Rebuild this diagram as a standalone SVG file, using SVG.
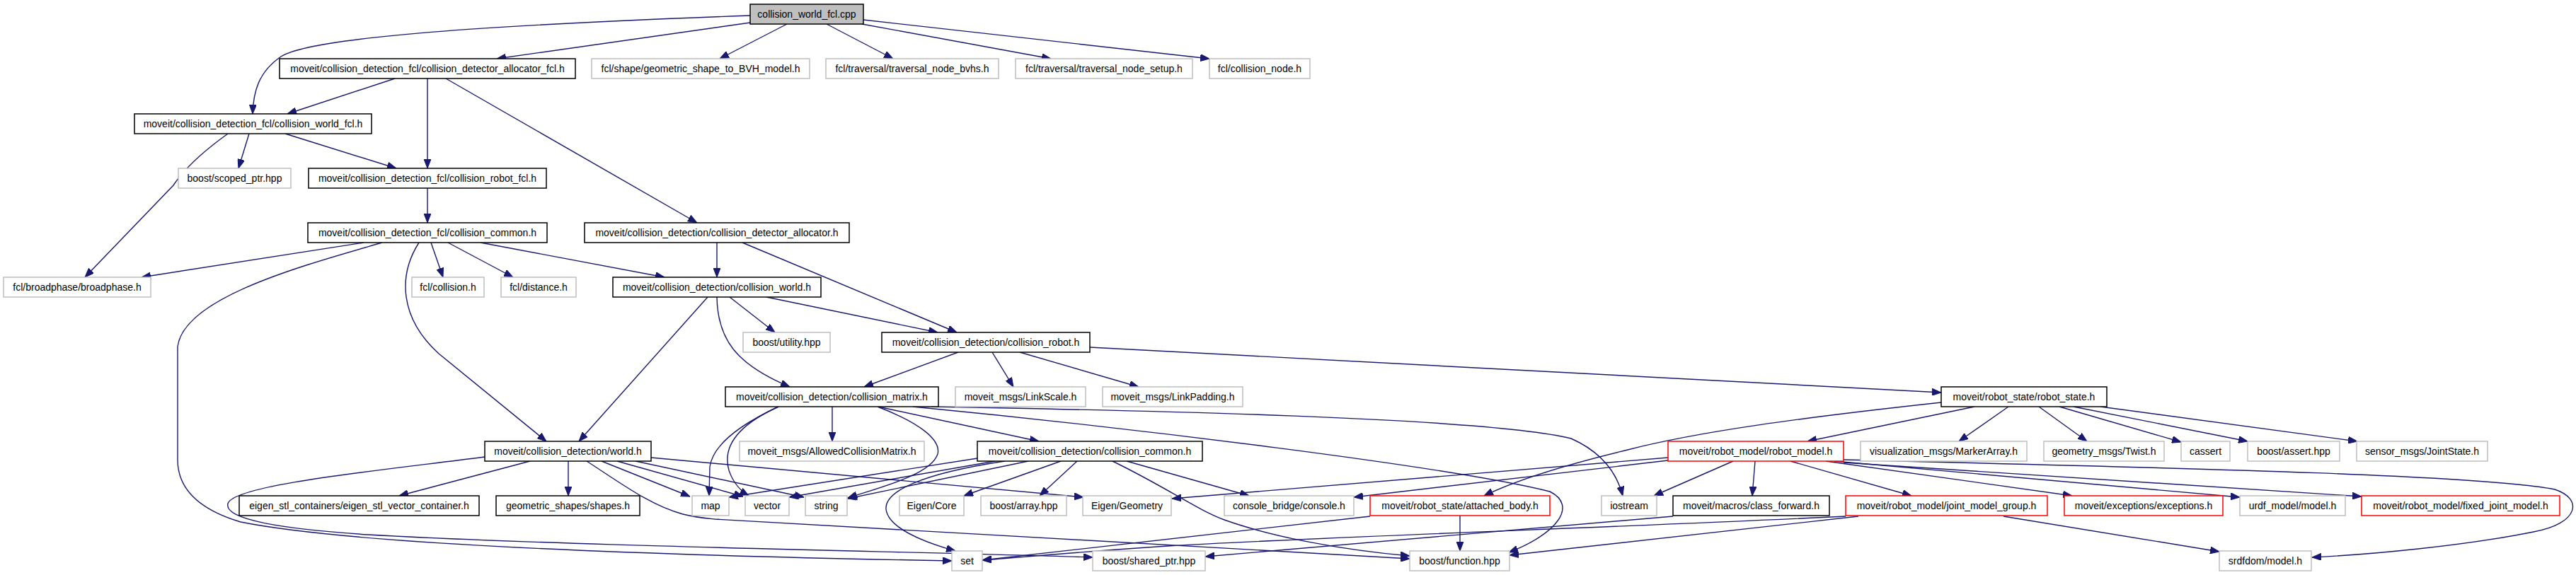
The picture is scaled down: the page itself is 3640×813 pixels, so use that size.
<svg xmlns="http://www.w3.org/2000/svg" width="3640" height="813" viewBox="0 0 3640 813">
<style>
.n rect{fill:#ffffff;stroke:#000000;stroke-width:1.5}
.g rect{stroke:#bfbfbf}
.r rect{stroke:#ff0000}
.root rect{fill:#bfbfbf}
text{font-family:"Liberation Sans",Arial,sans-serif;font-size:14px;text-anchor:middle;fill:#000000}
#edges path{fill:none;stroke:#191970;stroke-width:1.4;marker-end:url(#ah)}
</style>
<defs>
<marker id="ah" viewBox="0 0 13 10" refX="13" refY="5" markerWidth="13" markerHeight="10" markerUnits="userSpaceOnUse" orient="auto">
<path d="M0,0 L13,5 L0,10 z" fill="#191970" stroke="#191970" stroke-width="1"/>
</marker>
</defs>
<rect x="0" y="0" width="3640" height="813" fill="#ffffff"/>
<g id="edges">
<path d="M1060,22 C700,35 440,52 397,80 C365,102 358,130 357,161"/>
<path d="M1060,32 L702,83"/>
<path d="M1112,34 L1017,83"/>
<path d="M1168,34 L1262,83"/>
<path d="M1218,34 L1485,83"/>
<path d="M1220,28 L1709,83"/>
<path d="M558,111 L406,161"/>
<path d="M604,111 L604,238"/>
<path d="M630,111 L985,315"/>
<path d="M322,189 C290,212 262,236 245,262 L120,392"/>
<path d="M352,189 L337,238"/>
<path d="M403,189 L560,238"/>
<path d="M604,266 L604,315"/>
<path d="M514,343 L200,392"/>
<path d="M540,343 C430,375 260,420 251,490 L251,650 C251,690 280,720 340,738 C500,770 900,785 1345,793"/>
<path d="M592,343 C562,390 565,450 620,500 L772,624"/>
<path d="M609,343 L626,392"/>
<path d="M633,343 L725,392"/>
<path d="M679,343 L939,392"/>
<path d="M1013,343 L1013,392"/>
<path d="M1049,343 L1352,470"/>
<path d="M1000,420 L818,624"/>
<path d="M1031,420 L1095,470"/>
<path d="M1083,420 L1325,470"/>
<path d="M1013,420 C1014,480 1040,515 1116,547"/>
<path d="M1354,498 L1221,547"/>
<path d="M1402,498 L1432,547"/>
<path d="M1441,498 L1609,547"/>
<path d="M1540,491 L2743,555"/>
<path d="M1100,575 C1055,596 1008,625 1003,660 L1002,701"/>
<path d="M1100,575 C1045,600 1020,630 1030,665 C1036,683 1048,695 1058,701"/>
<path d="M1176,575 L1176,624"/>
<path d="M1240,575 C1300,598 1330,622 1325,642 C1315,672 1240,690 1198,704"/>
<path d="M1241,575 L1468,624"/>
<path d="M1316,575 C1600,580 2100,590 2220,620 C2265,640 2285,670 2293,701"/>
<path d="M1290,575 C1600,605 2050,660 2190,695 C2230,715 2200,755 2132,781"/>
<path d="M2743,569 C2550,590 2400,610 2300,636 C2200,660 2140,680 2097,701"/>
<path d="M2790,575 L2554,624"/>
<path d="M2838,575 L2768,624"/>
<path d="M2881,575 L2949,624"/>
<path d="M2910,575 L3082,625"/>
<path d="M2930,575 L3176,624"/>
<path d="M2968,575 L3331,624"/>
<path d="M749,652 L564,701"/>
<path d="M803,652 L803,701"/>
<path d="M850,652 L975,702"/>
<path d="M872,652 L1050,702"/>
<path d="M898,652 L1136,703"/>
<path d="M920,647 L1531,703"/>
<path d="M685,646 C540,665 330,685 322,712 C316,735 400,748 520,756 C800,772 1300,780 1544,788"/>
<path d="M829,652 C880,685 920,715 965,727 C985,732 1000,733 1010,734 L1992,790"/>
<path d="M1381,648 L1030,703"/>
<path d="M1406,652 L1115,703"/>
<path d="M1453,652 L1198,705"/>
<path d="M1499,652 L1362,701"/>
<path d="M1522,652 L1469,701"/>
<path d="M1592,652 L1765,701"/>
<path d="M1420,652 C1300,670 1250,695 1252,720 C1255,745 1300,765 1350,779"/>
<path d="M1572,652 C1650,690 1690,720 1730,735 C1800,760 1900,778 1992,786"/>
<path d="M2357,647 L1656,705"/>
<path d="M2357,651 L1913,703"/>
<path d="M2449,652 L2337,701"/>
<path d="M2480,652 L2476,701"/>
<path d="M2530,652 L2701,701"/>
<path d="M2580,652 L2928,701"/>
<path d="M2592,652 L3165,703"/>
<path d="M2605,654 L3337,702"/>
<path d="M2605,650 C3000,660 3500,670 3610,692 C3650,705 3645,740 3580,752 C3480,772 3350,784 3267,788"/>
<path d="M1936,730 L1388,792"/>
<path d="M2063,729 L2063,779"/>
<path d="M2364,730 L1703,787"/>
<path d="M2608,730 C2300,745 1850,760 1650,772 C1500,782 1420,790 1388,792"/>
<path d="M2626,730 L2133,785"/>
<path d="M2831,730 L3136,780"/>
</g>
<g id="n0" class="n root"><rect x="1060" y="6" width="160" height="28"/><text x="1140" y="25">collision_world_fcl.cpp</text></g>
<g id="n1" class="n"><rect x="395" y="83" width="418" height="28"/><text x="604" y="102">moveit/collision_detection_fcl/collision_detector_allocator_fcl.h</text></g>
<g id="n2" class="n g"><rect x="836" y="83" width="308" height="28"/><text x="990" y="102">fcl/shape/geometric_shape_to_BVH_model.h</text></g>
<g id="n3" class="n g"><rect x="1167" y="83" width="244" height="28"/><text x="1289" y="102">fcl/traversal/traversal_node_bvhs.h</text></g>
<g id="n4" class="n g"><rect x="1435" y="83" width="250" height="28"/><text x="1560" y="102">fcl/traversal/traversal_node_setup.h</text></g>
<g id="n5" class="n g"><rect x="1709" y="83" width="142" height="28"/><text x="1780" y="102">fcl/collision_node.h</text></g>
<g id="n6" class="n"><rect x="190" y="161" width="335" height="28"/><text x="357.5" y="180">moveit/collision_detection_fcl/collision_world_fcl.h</text></g>
<g id="n7" class="n g"><rect x="252" y="238" width="159" height="28"/><text x="331.5" y="257">boost/scoped_ptr.hpp</text></g>
<g id="n8" class="n"><rect x="436" y="238" width="336" height="28"/><text x="604" y="257">moveit/collision_detection_fcl/collision_robot_fcl.h</text></g>
<g id="n9" class="n"><rect x="435" y="315" width="338" height="28"/><text x="604" y="334">moveit/collision_detection_fcl/collision_common.h</text></g>
<g id="n10" class="n"><rect x="826" y="315" width="374" height="28"/><text x="1013" y="334">moveit/collision_detection/collision_detector_allocator.h</text></g>
<g id="n11" class="n g"><rect x="5" y="392" width="208" height="28"/><text x="109" y="411">fcl/broadphase/broadphase.h</text></g>
<g id="n12" class="n g"><rect x="582" y="392" width="102" height="28"/><text x="633" y="411">fcl/collision.h</text></g>
<g id="n13" class="n g"><rect x="708" y="392" width="106" height="28"/><text x="761" y="411">fcl/distance.h</text></g>
<g id="n14" class="n"><rect x="866" y="392" width="294" height="28"/><text x="1013" y="411">moveit/collision_detection/collision_world.h</text></g>
<g id="n15" class="n g"><rect x="1050" y="470" width="123" height="28"/><text x="1111.5" y="489">boost/utility.hpp</text></g>
<g id="n16" class="n"><rect x="1246" y="470" width="294" height="28"/><text x="1393" y="489">moveit/collision_detection/collision_robot.h</text></g>
<g id="n17" class="n"><rect x="1025" y="547" width="301" height="28"/><text x="1175.5" y="566">moveit/collision_detection/collision_matrix.h</text></g>
<g id="n18" class="n g"><rect x="1350" y="547" width="184" height="28"/><text x="1442" y="566">moveit_msgs/LinkScale.h</text></g>
<g id="n19" class="n g"><rect x="1558" y="547" width="198" height="28"/><text x="1657" y="566">moveit_msgs/LinkPadding.h</text></g>
<g id="n20" class="n"><rect x="2743" y="547" width="234" height="28"/><text x="2860" y="566">moveit/robot_state/robot_state.h</text></g>
<g id="n21" class="n"><rect x="685" y="624" width="235" height="28"/><text x="802.5" y="643">moveit/collision_detection/world.h</text></g>
<g id="n22" class="n g"><rect x="1045" y="624" width="261" height="28"/><text x="1175.5" y="643">moveit_msgs/AllowedCollisionMatrix.h</text></g>
<g id="n23" class="n"><rect x="1381" y="624" width="318" height="28"/><text x="1540" y="643">moveit/collision_detection/collision_common.h</text></g>
<g id="n24" class="n r"><rect x="2357" y="624" width="248" height="28"/><text x="2481" y="643">moveit/robot_model/robot_model.h</text></g>
<g id="n25" class="n g"><rect x="2629" y="624" width="235" height="28"/><text x="2746.5" y="643">visualization_msgs/MarkerArray.h</text></g>
<g id="n26" class="n g"><rect x="2888" y="624" width="170" height="28"/><text x="2973" y="643">geometry_msgs/Twist.h</text></g>
<g id="n27" class="n g"><rect x="3082" y="624" width="69" height="28"/><text x="3116.5" y="643">cassert</text></g>
<g id="n28" class="n g"><rect x="3176" y="624" width="130" height="28"/><text x="3241" y="643">boost/assert.hpp</text></g>
<g id="n29" class="n g"><rect x="3330" y="624" width="185" height="28"/><text x="3422.5" y="643">sensor_msgs/JointState.h</text></g>
<g id="n30" class="n"><rect x="338" y="701" width="339" height="28"/><text x="507.5" y="720">eigen_stl_containers/eigen_stl_vector_container.h</text></g>
<g id="n31" class="n"><rect x="701" y="701" width="203" height="28"/><text x="802.5" y="720">geometric_shapes/shapes.h</text></g>
<g id="n32" class="n g"><rect x="978" y="701" width="52" height="28"/><text x="1004" y="720">map</text></g>
<g id="n33" class="n g"><rect x="1053" y="701" width="62" height="28"/><text x="1084" y="720">vector</text></g>
<g id="n34" class="n g"><rect x="1138" y="701" width="59" height="28"/><text x="1167.5" y="720">string</text></g>
<g id="n35" class="n g"><rect x="1271" y="701" width="91" height="28"/><text x="1316.5" y="720">Eigen/Core</text></g>
<g id="n36" class="n g"><rect x="1386" y="701" width="121" height="28"/><text x="1446.5" y="720">boost/array.hpp</text></g>
<g id="n37" class="n g"><rect x="1530" y="701" width="125" height="28"/><text x="1592.5" y="720">Eigen/Geometry</text></g>
<g id="n38" class="n g"><rect x="1730" y="701" width="183" height="28"/><text x="1821.5" y="720">console_bridge/console.h</text></g>
<g id="n39" class="n r"><rect x="1936" y="701" width="254" height="28"/><text x="2063" y="720">moveit/robot_state/attached_body.h</text></g>
<g id="n40" class="n g"><rect x="2263" y="701" width="78" height="28"/><text x="2302" y="720">iostream</text></g>
<g id="n41" class="n"><rect x="2364" y="701" width="221" height="28"/><text x="2474.5" y="720">moveit/macros/class_forward.h</text></g>
<g id="n42" class="n r"><rect x="2608" y="701" width="285" height="28"/><text x="2750.5" y="720">moveit/robot_model/joint_model_group.h</text></g>
<g id="n43" class="n r"><rect x="2917" y="701" width="224" height="28"/><text x="3029" y="720">moveit/exceptions/exceptions.h</text></g>
<g id="n44" class="n g"><rect x="3165" y="701" width="149" height="28"/><text x="3239.5" y="720">urdf_model/model.h</text></g>
<g id="n45" class="n r"><rect x="3337" y="701" width="280" height="28"/><text x="3477" y="720">moveit/robot_model/fixed_joint_model.h</text></g>
<g id="n46" class="n g"><rect x="1345" y="779" width="43" height="28"/><text x="1366.5" y="798">set</text></g>
<g id="n47" class="n g"><rect x="1544" y="779" width="159" height="28"/><text x="1623.5" y="798">boost/shared_ptr.hpp</text></g>
<g id="n48" class="n g"><rect x="1992" y="779" width="141" height="28"/><text x="2062.5" y="798">boost/function.hpp</text></g>
<g id="n49" class="n g"><rect x="3136" y="779" width="130" height="28"/><text x="3201" y="798">srdfdom/model.h</text></g>
</svg>
